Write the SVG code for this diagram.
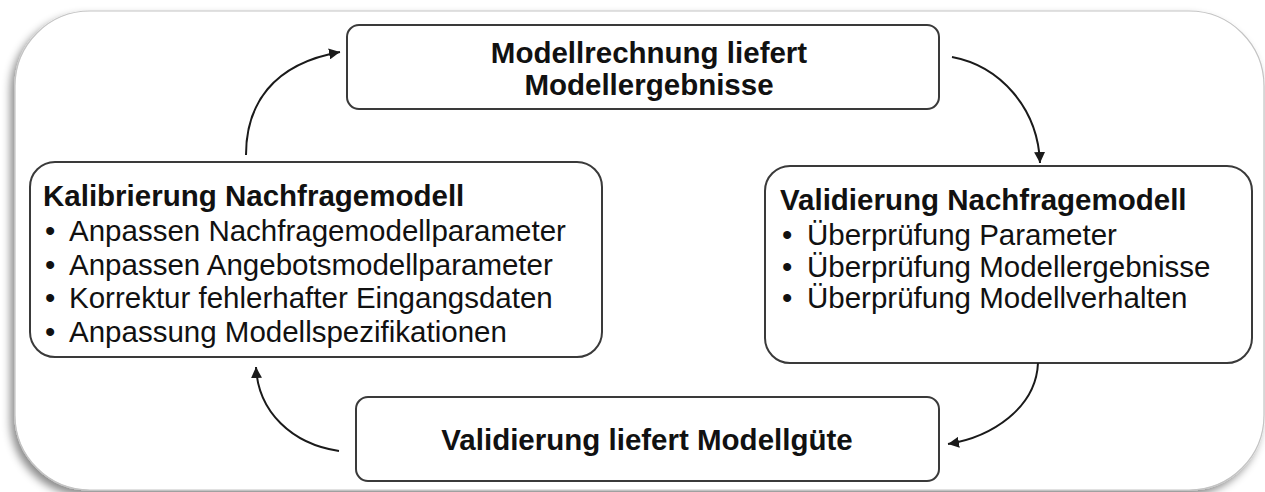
<svg xmlns="http://www.w3.org/2000/svg" width="1265" height="492" viewBox="0 0 1265 492">
  <defs>
    <filter id="shadow" x="-5%" y="-5%" width="110%" height="115%">
      <feDropShadow dx="-4" dy="5" stdDeviation="4" flood-color="#000" flood-opacity="0.45"/>
    </filter>
    <marker id="arrow" viewBox="0 0 10 10" refX="10" refY="5" markerWidth="11" markerHeight="11" markerUnits="userSpaceOnUse" orient="auto">
      <path d="M0,0 L10,5 L0,10 z" fill="#1a1a1a"/>
    </marker>
    <style>
      .frame { fill: #ffffff; stroke: #c4c4c4; stroke-width: 1.2; }
      .box { fill: #ffffff; stroke: #3a3a3a; stroke-width: 2; }
      .bold { font-family: "Liberation Sans", Arial, sans-serif; font-weight: bold; font-size: 29.5px; fill: #111; }
      .reg { font-family: "Liberation Sans", Arial, sans-serif; font-size: 29.5px; fill: #111; }
      .conn { fill: none; stroke: #1a1a1a; stroke-width: 2; marker-end: url(#arrow); }
    </style>
  </defs>

  <rect width="1265" height="492" fill="#ffffff"/>
  <rect id="frame" class="frame" x="15" y="11" width="1249" height="479" rx="75" ry="75" filter="url(#shadow)"/>

  <g id="node-modellrechnung">
    <rect class="box" x="347" y="25" width="592" height="84" rx="12" ry="12"/>
    <text class="bold" x="649" y="63" text-anchor="middle">Modellrechnung liefert</text>
    <text class="bold" x="649" y="95" text-anchor="middle">Modellergebnisse</text>
  </g>

  <g id="node-kalibrierung">
    <rect class="box" x="30" y="162" width="572" height="195" rx="25" ry="25"/>
    <text class="bold" x="43" y="206">Kalibrierung Nachfragemodell</text>
    <text class="reg" x="45" y="241">•</text>
    <text class="reg" x="69" y="241">Anpassen Nachfragemodellparameter</text>
    <text class="reg" x="45" y="275">•</text>
    <text class="reg" x="69" y="275">Anpassen Angebotsmodellparameter</text>
    <text class="reg" x="45" y="308">•</text>
    <text class="reg" x="69" y="308">Korrektur fehlerhafter Eingangsdaten</text>
    <text class="reg" x="45" y="342">•</text>
    <text class="reg" x="69" y="342">Anpassung Modellspezifikationen</text>
  </g>

  <g id="node-validierung">
    <rect class="box" x="765" y="166" width="487" height="197" rx="25" ry="25"/>
    <text class="bold" x="780" y="210">Validierung Nachfragemodell</text>
    <text class="reg" x="782" y="245">•</text>
    <text class="reg" x="807" y="245">Überprüfung Parameter</text>
    <text class="reg" x="782" y="277">•</text>
    <text class="reg" x="807" y="277">Überprüfung Modellergebnisse</text>
    <text class="reg" x="782" y="308">•</text>
    <text class="reg" x="807" y="308">Überprüfung Modellverhalten</text>
  </g>

  <g id="node-modellguete">
    <rect class="box" x="356" y="397" width="583" height="84" rx="12" ry="12"/>
    <text class="bold" x="647" y="450" text-anchor="middle">Validierung liefert Modellgüte</text>
  </g>

  <g id="connectors">
    <path class="conn" d="M246,155 C246,105 272,64 340,52"/>
    <path class="conn" d="M952,57 C1000,66 1038,108 1040,163"/>
    <path class="conn" d="M1038,363 C1036,408 992,437 948,444"/>
    <path class="conn" d="M339,451 C292,444 258,412 256,367"/>
  </g>
</svg>
